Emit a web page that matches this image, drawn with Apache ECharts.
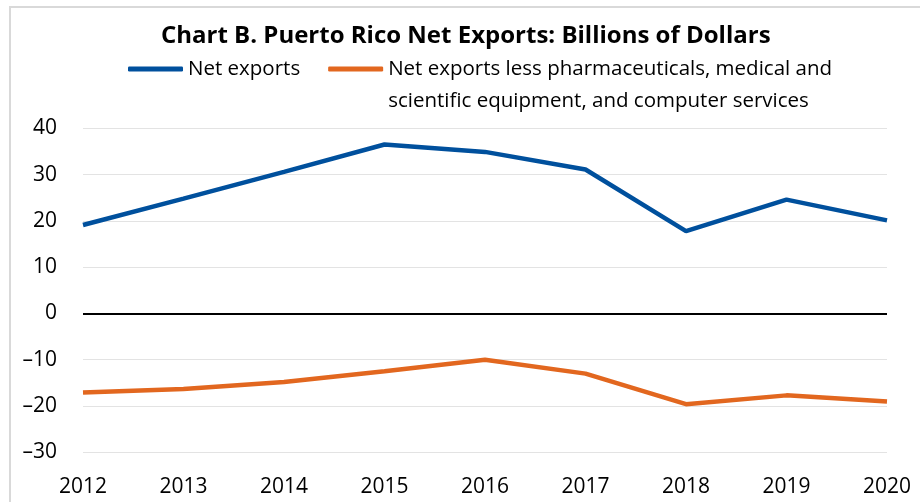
<!DOCTYPE html>
<html>
<head>
<meta charset="utf-8">
<script src="https://cdn.jsdelivr.net/npm/echarts@6/dist/echarts.min.js"></script>
<style>html,body{margin:0;padding:0;background:#fff}#c{width:920px;height:502px}</style>
</head>
<body>
<div id="c"></div>
<script>
const titleText = 'Chart B. Puerto Rico Net Exports: Billions of Dollars';
const years = ['2012','2013','2014','2015','2016','2017','2018','2019','2020'];
const seriesNames = ['Net exports', 'Net exports less pharmaceuticals, medical and\nscientific equipment, and computer services'];
const netExports = [19.1, 24.8, 30.6, 36.5, 34.9, 31.1, 17.8, 24.6, 20.1];
const netExportsLess = [-17.1, -16.3, -14.8, -12.5, -10.0, -13.0, -19.6, -17.7, -19.0];
const yMin = -30, yMax = 40, yStep = 10;

const chart = echarts.init(document.getElementById('c'), null, {renderer: 'canvas'});
const tickFont = {fontFamily: 'Open Sans', fontSize: 21, color: '#000'};
chart.setOption({
  animation: false,
  backgroundColor: '#fff',
  title: {
    text: titleText,
    left: 161,
    top: 24,
    padding: 0,
    textStyle: {fontFamily: 'Open Sans', fontWeight: 'bold', fontSize: 24, color: '#000'}
  },
  graphic: [{
    type: 'rect', silent: true,
    shape: {x: 10, y: 7, width: 1000, height: 1000},
    style: {fill: 'none', stroke: '#d9d9d9', lineWidth: 2}
  }],
  legend: {
    left: 128,
    top: 21,
    padding: 0,
    itemWidth: 55,
    itemHeight: 5,
    itemGap: 28,
    icon: 'roundRect',
    textStyle: {fontFamily: 'Open Sans', fontSize: 20.5, color: '#000', lineHeight: 32},
    formatter: name => name.indexOf('\n') >= 0 ? '\n' + name : name,
    data: [seriesNames[0], seriesNames[1]]
  },
  grid: {left: 83, right: 33, top: 128.3, bottom: 49.7, containLabel: false},
  xAxis: {
    type: 'category',
    data: years,
    boundaryGap: false,
    axisLine: {show: false},
    axisTick: {show: false},
    axisLabel: Object.assign({margin: 24}, tickFont),
    splitLine: {show: false}
  },
  yAxis: {
    type: 'value',
    min: yMin, max: yMax, interval: yStep,
    axisLine: {show: false},
    axisTick: {show: false},
    axisLabel: Object.assign({margin: 26, formatter: v => String(v).replace('-', '\u2013')}, tickFont),
    splitLine: {lineStyle: {color: '#e3e3e3', width: 1}}
  },
  series: [
    {
      name: seriesNames[0], type: 'line', data: netExports,
      symbol: 'none', color: '#00509d',
      lineStyle: {width: 4.5, color: '#00509d'},
      markLine: {
        silent: true, symbol: 'none', label: {show: false},
        lineStyle: {color: '#000', width: 2, type: 'solid'},
        data: [{yAxis: 0}]
      }
    },
    {
      name: seriesNames[1], type: 'line', data: netExportsLess,
      symbol: 'none', color: '#e2671f',
      lineStyle: {width: 4.5, color: '#e2671f'}
    }
  ]
});
</script>
</body>
</html>
